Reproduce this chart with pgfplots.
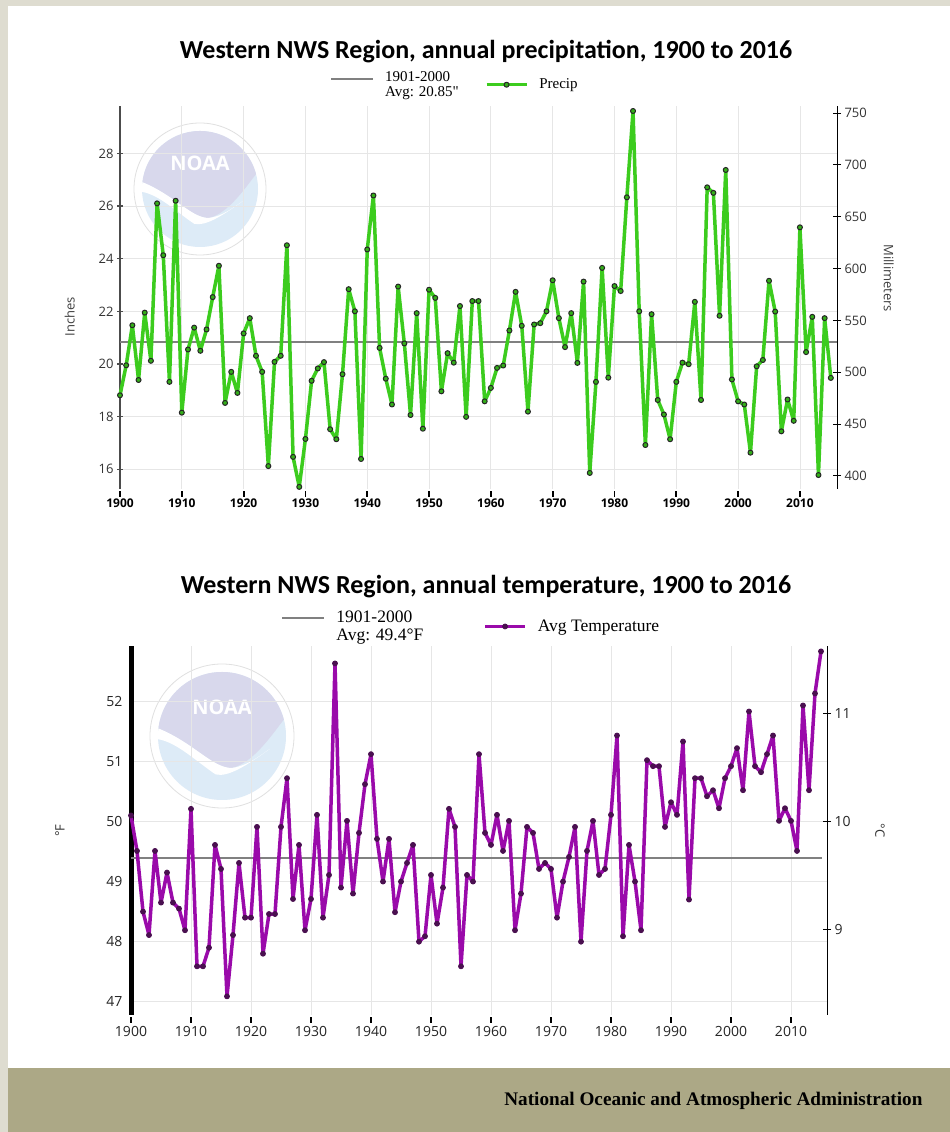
\documentclass[border=0pt]{standalone}
\usepackage{fontspec}
\setmainfont{Open Sans}
\newfontfamily\titlefont{Carlito}
\newfontfamily\legfont{Liberation Serif}
\usepackage{pgfplots}
\usepackage{pgfplotstable}
\pgfplotsset{compat=1.18}

\definecolor{frame}{HTML}{DEDCD0}
\definecolor{band}{HTML}{ACA886}
\definecolor{precip}{HTML}{3CCC1E}
\definecolor{temp}{HTML}{9A0AAA}
\definecolor{tempmark}{HTML}{4A1050}
\definecolor{avgc}{HTML}{808080}
\definecolor{gridc}{HTML}{E6E6E6}
\definecolor{logoblue}{HTML}{DDEBF7}
\definecolor{logotop}{HTML}{D8D8EC}

% annual precipitation, inches
\pgfplotstableread{
year inch
1900 18.81
1901 19.95
1902 21.47
1903 19.39
1904 21.95
1905 20.12
1906 26.10
1907 24.13
1908 19.32
1909 26.20
1910 18.15
1911 20.55
1912 21.38
1913 20.50
1914 21.31
1915 22.54
1916 23.73
1917 18.52
1918 19.70
1919 18.90
1920 21.16
1921 21.74
1922 20.31
1923 19.70
1924 16.12
1925 20.08
1926 20.31
1927 24.51
1928 16.47
1929 15.33
1930 17.15
1931 19.36
1932 19.83
1933 20.07
1934 17.52
1935 17.14
1936 19.61
1937 22.84
1938 22.00
1939 16.39
1940 24.35
1941 26.40
1942 20.61
1943 19.44
1944 18.46
1945 22.94
1946 20.78
1947 18.06
1948 21.93
1949 17.54
1950 22.82
1951 22.51
1952 18.96
1953 20.41
1954 20.05
1955 22.20
1956 17.99
1957 22.39
1958 22.39
1959 18.58
1960 19.09
1961 19.85
1962 19.94
1963 21.27
1964 22.74
1965 21.45
1966 18.19
1967 21.50
1968 21.55
1969 22.00
1970 23.18
1971 21.74
1972 20.64
1973 21.93
1974 20.04
1975 23.13
1976 15.86
1977 19.32
1978 23.65
1979 19.48
1980 22.96
1981 22.77
1982 26.33
1983 29.61
1984 22.00
1985 16.92
1986 21.89
1987 18.63
1988 18.08
1989 17.14
1990 19.32
1991 20.05
1992 19.99
1993 22.36
1994 18.63
1995 26.71
1996 26.50
1997 21.83
1998 27.37
1999 19.41
2000 18.58
2001 18.46
2002 16.63
2003 19.91
2004 20.15
2005 23.16
2006 21.99
2007 17.44
2008 18.65
2009 17.84
2010 25.19
2011 20.45
2012 21.79
2013 15.78
2014 21.74
2015 19.47
}\precip

% annual mean temperature, deg F
\pgfplotstableread{
year degf
1900 50.10
1901 49.51
1902 48.50
1903 48.11
1904 49.51
1905 48.65
1906 49.15
1907 48.65
1908 48.55
1909 48.19
1910 50.21
1911 47.59
1912 47.59
1913 47.90
1914 49.61
1915 49.21
1916 47.09
1917 48.11
1918 49.31
1919 48.40
1920 48.40
1921 49.91
1922 47.80
1923 48.46
1924 48.46
1925 49.91
1926 50.72
1927 48.71
1928 49.61
1929 48.19
1930 48.71
1931 50.11
1932 48.40
1933 49.11
1934 52.63
1935 48.90
1936 50.01
1937 48.80
1938 49.81
1939 50.62
1940 51.12
1941 49.71
1942 49.00
1943 49.71
1944 48.49
1945 49.00
1946 49.31
1947 49.61
1948 48.00
1949 48.09
1950 49.11
1951 48.30
1952 48.90
1953 50.21
1954 49.91
1955 47.59
1956 49.11
1957 49.00
1958 51.12
1959 49.81
1960 49.61
1961 50.11
1962 49.51
1963 50.01
1964 48.19
1965 48.80
1966 49.91
1967 49.81
1968 49.21
1969 49.31
1970 49.21
1971 48.40
1972 49.00
1973 49.41
1974 49.91
1975 48.00
1976 49.51
1977 50.01
1978 49.11
1979 49.21
1980 50.11
1981 51.43
1982 48.09
1983 49.61
1984 49.00
1985 48.19
1986 51.02
1987 50.92
1988 50.92
1989 49.91
1990 50.32
1991 50.11
1992 51.33
1993 48.70
1994 50.72
1995 50.72
1996 50.42
1997 50.52
1998 50.22
1999 50.72
2000 50.92
2001 51.22
2002 50.52
2003 51.83
2004 50.92
2005 50.82
2006 51.12
2007 51.43
2008 50.01
2009 50.22
2010 50.01
2011 49.51
2012 51.93
2013 50.52
2014 52.13
2015 52.83
}\temps

\pgfplotsset{
  base/.style={
    scale only axis, clip=false,
    xmin=1900, xmax=2016,
    xtick={1900,1910,...,2010},
    grid=major, grid style={gridc, line width=0.8pt},
    /pgf/number format/1000 sep={},
    /pgf/number format/assume math mode=true,
    tick align=center, major tick length=6pt,
    axis x line*=bottom, axis y line*=left,
    x axis line style={draw=none},
    xtick style={black, line width=1.8pt, yshift=-5pt},
  },
  rightax/.style={
    scale only axis, clip=false,
    xmin=1900, xmax=2016,
    axis x line=none, axis y line*=right,
    y axis line style={-, black, line width=1pt},
    ytick style={black, line width=1pt},
    tick align=center, major tick length=8pt,
    /pgf/number format/assume math mode=true,
  },
  lgd/.style 2 args={
    legend columns=2,
    legend cell align=left,
    legend style={draw=none, fill=none, cells={align=left},
      font=\legfont\fontsize{#2}{#2}\selectfont,
      /tikz/every odd column/.append style={column sep=9pt},
      /tikz/every even column/.append style={column sep=#1}},
    legend image code/.code={%
      \draw[mark repeat=2, mark phase=2, ##1] plot coordinates {(0pt,0pt) (20pt,0pt) (40pt,0pt)};},
  },
  upimage/.style={legend image code/.code={%
      \draw[##1, yshift=#1] (0pt,0pt) -- (42pt,0pt);}},
}

% faint NOAA watermark behind each chart
\newcommand\logo[3]{%
  \begin{scope}
    \fill[logoblue] (#1,#2) circle (#3);
    \begin{scope}
    \clip (#1,#2) circle (#3);
    \fill[logotop] ([xshift=-#3,yshift=0.12*#3]#1,#2)
      .. controls ([xshift=-0.45*#3,yshift=-0.1*#3]#1,#2) and ([xshift=-0.15*#3,yshift=-0.5*#3]#1,#2)
      .. ([xshift=0.15*#3,yshift=-0.5*#3]#1,#2)
      .. controls ([xshift=0.5*#3,yshift=-0.42*#3]#1,#2) and ([xshift=0.8*#3,yshift=0.05*#3]#1,#2)
      .. ([xshift=#3,yshift=0.3*#3]#1,#2) -- ([xshift=#3,yshift=#3]#1,#2)
      -- ([xshift=-#3,yshift=#3]#1,#2) -- cycle;
    \fill[white] ([xshift=-#3,yshift=0.12*#3]#1,#2)
      .. controls ([xshift=-0.45*#3,yshift=-0.1*#3]#1,#2) and ([xshift=-0.15*#3,yshift=-0.5*#3]#1,#2)
      .. ([xshift=0.15*#3,yshift=-0.5*#3]#1,#2)
      .. controls ([xshift=0.4*#3,yshift=-0.47*#3]#1,#2) and ([xshift=0.6*#3,yshift=-0.3*#3]#1,#2)
      .. ([xshift=0.75*#3,yshift=-0.2*#3]#1,#2)
      .. controls ([xshift=0.4*#3,yshift=-0.45*#3]#1,#2) and ([xshift=0.1*#3,yshift=-0.65*#3]#1,#2)
      .. ([xshift=-0.1*#3,yshift=-0.6*#3]#1,#2)
      .. controls ([xshift=-0.4*#3,yshift=-0.4*#3]#1,#2) and ([xshift=-0.7*#3,yshift=-0.1*#3]#1,#2)
      .. ([xshift=-#3,yshift=-0.05*#3]#1,#2) -- cycle;
    \end{scope}
    \draw[black!12, line width=0.8pt] (#1,#2) circle (#3+8pt);
    \node[text=white, font=\bfseries\fontsize{20}{20}\selectfont] at ([yshift=0.45*#3]#1,#2) {NOAA};
  \end{scope}}

\begin{document}
\begin{tikzpicture}
\useasboundingbox (0,0) rectangle (950pt,1132pt);
\fill[frame] (0,0) rectangle (950pt,1132pt);
\fill[white] (8pt,64pt) rectangle (950pt,1126pt);
\fill[band] (8pt,0) rectangle (950pt,64pt);
\node[anchor=base east, font=\legfont\bfseries\fontsize{19.2}{20}\selectfont]
  at (926pt,26pt) {National Oceanic and Atmospheric Administration};

\logo{200pt}{943pt}{58pt}
\logo{222pt}{396pt}{64pt}

\node[font=\titlefont\bfseries\fontsize{26}{26}\selectfont] at (486pt,1080pt)
  {Western NWS Region, annual precipitation, 1900 to 2016};
\node[font=\titlefont\bfseries\fontsize{26}{26}\selectfont] at (486pt,545pt)
  {Western NWS Region, annual temperature, 1900 to 2016};

% ---- precipitation ----
\begin{axis}[base, lgd={24pt}{15},
  at={(120pt,643pt)}, anchor=south west,
  width=717pt, height=383pt,
  ymin=15.25, ymax=29.8, ytick={16,18,...,28},
  y axis line style={-, black!70, line width=1.3pt},
  ytick style={black!70, line width=1.2pt},
  xticklabel style={font=\bfseries\fontsize{12}{12}\selectfont, yshift=-3pt},
  yticklabel style={font=\fontsize{13}{13}\selectfont, text=black!80},
  ylabel={Inches},
  ylabel style={at={(axis description cs:-0.07,0.45)}, anchor=center,
    font=\fontsize{13}{13}\selectfont, text=black!75},
  legend style={at={(axis description cs:0.467,1.01)}, anchor=south},
]
\addplot[avgc, line width=2pt, upimage=6pt] coordinates {(1900,20.85) (2016,20.85)};
\addlegendentry{1901-2000\\Avg: 20.85"}
\addplot[precip, line width=3.5pt, line join=round, mark=*, mark size=2.5pt,
  mark options={fill=precip!85!black, draw=black!85, line width=1pt}]
  table[x=year, y=inch] {\precip};
\addlegendentry{Precip}
\end{axis}
\begin{axis}[rightax,
  at={(120pt,643pt)}, anchor=south west,
  width=717pt, height=383pt,
  ymin=387.35, ymax=756.92, ytick={400,450,...,750},
  yticklabel style={font=\fontsize{13}{13}\selectfont, text=black!80},
  ylabel={Millimeters},
  ylabel style={at={(axis description cs:1.072,0.55)}, anchor=center, rotate=180,
    font=\fontsize{13}{13}\selectfont, text=black!75},
]
\addplot[draw=none] coordinates {(1900,400) (2016,400)};
\end{axis}

% ---- temperature ----
\begin{axis}[base, lgd={58pt}{17.5},
  at={(131pt,117pt)}, anchor=south west,
  width=696pt, height=369pt,
  ymin=46.78, ymax=52.92, ytick={47,48,...,52},
  y axis line style={-, black, line width=5pt},
  ytick style={draw=none},
  xticklabel style={font=\fontsize{14}{14}\selectfont, text=black!85, yshift=-5pt},
  yticklabel style={font=\fontsize{14}{14}\selectfont, text=black!85, xshift=-2pt},
  ylabel={°F},
  ylabel style={at={(axis description cs:-0.102,0.5)}, anchor=center,
    font=\fontsize{13}{13}\selectfont, text=black!80},
  legend style={at={(axis description cs:0.489,1.0)}, anchor=south},
]
\addplot[avgc, line width=2pt, upimage=8pt] coordinates {(1900,49.4) (2015.2,49.4)};
\addlegendentry{1901-2000\\Avg: 49.4°F}
\addplot[temp, line width=3.5pt, line join=round, mark=*, mark size=2.5pt,
  mark options={fill=tempmark, draw=tempmark, line width=0.8pt}]
  table[x=year, y=degf] {\temps};
\addlegendentry{Avg Temperature}
\end{axis}
\begin{axis}[rightax,
  at={(131pt,117pt)}, anchor=south west,
  width=696pt, height=369pt,
  ymin=8.211, ymax=11.622, ytick={9,10,11},
  yticklabel style={font=\fontsize{14}{14}\selectfont, text=black!85},
  ylabel={°C},
  ylabel style={at={(axis description cs:1.076,0.5)}, anchor=center, rotate=180,
    font=\fontsize{13}{13}\selectfont, text=black!80},
]
\addplot[draw=none] coordinates {(1900,9) (2016,9)};
\end{axis}
\end{tikzpicture}
\end{document}
